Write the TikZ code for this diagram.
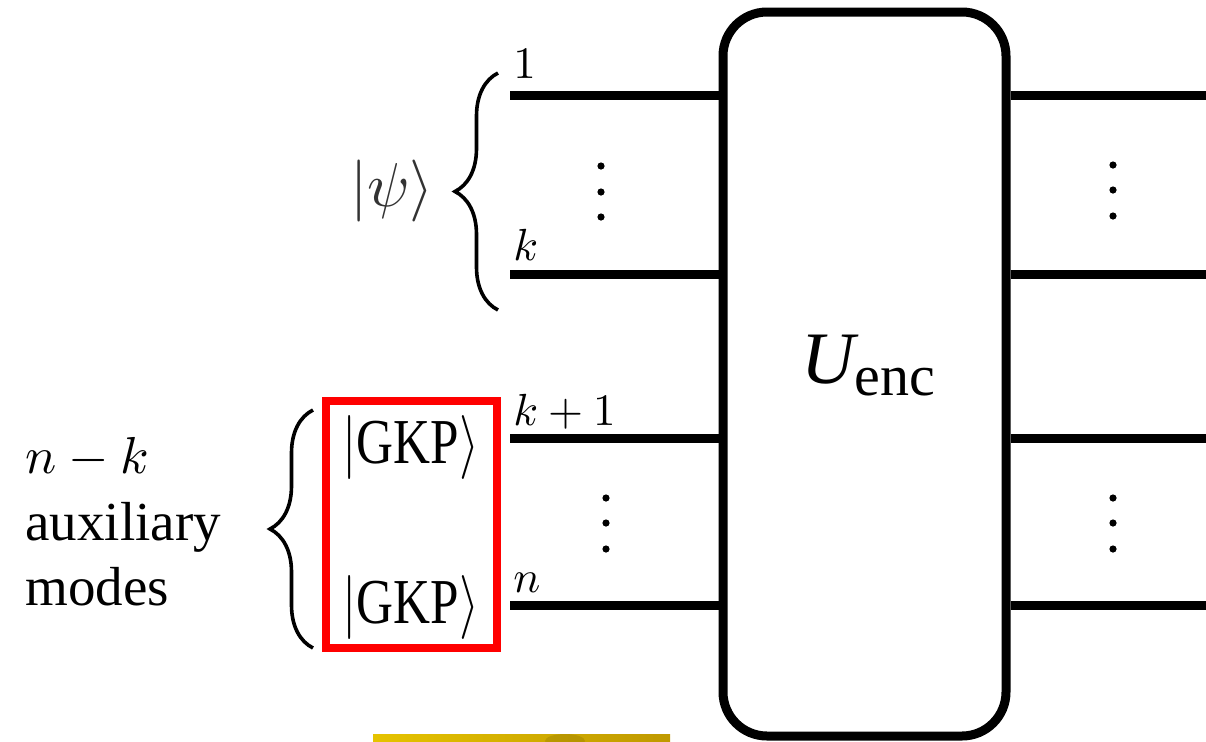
\documentclass[tikz,border=0pt]{standalone}
\usepackage{fontspec}
\setmainfont{Liberation Serif}
\DeclareFontShape{OML}{cmm}{m}{it}{<->cmmi10}{}
\DeclareFontShape{OMS}{cmsy}{m}{n}{<->cmsy10}{}
\DeclareFontShape{OMX}{cmex}{m}{n}{<->cmex10}{}
\DeclareFontShape{OT1}{cmr}{m}{n}{<->cmr10}{}
\usetikzlibrary{decorations.pathreplacing}
\begin{document}
\begin{tikzpicture}[x=0.5pt,y=-0.5pt,
  wire/.style={line width=4.5pt},
  dotc/.style={fill=black,circle,inner sep=0pt,minimum size=3.6pt},
  bracestyle/.style={decorate,decoration={brace,amplitude=21.5pt},line width=1.8pt},
  lab/.style={inner sep=0pt,anchor=base west,font=\fontsize{22.5}{22.5}\selectfont},
  gkp/.style={inner sep=0pt,anchor=base,font=\fontsize{32}{32}\selectfont},
  side/.style={inner sep=0pt,anchor=base west,font=\fontsize{27.5}{27.5}\selectfont}]
\useasboundingbox (0,0) rectangle (1206,741);
% encoder box
\node[draw,line width=4.5pt,rounded corners=22pt,minimum width=141.5pt,minimum height=362pt,inner sep=0pt] (enc) at (864.5,374) {};
\node[inner sep=0pt,anchor=base west] (ulab) at (801,383)
  {{\fontsize{37}{37}\selectfont\itshape U}\raisebox{-6pt}{\fontsize{29}{29}\selectfont enc}};
% wire endpoints
\coordinate (i1) at (510,95);
\coordinate (i2) at (510,274);
\coordinate (i3) at (510,438);
\coordinate (i4) at (510,605);
\coordinate (o1) at (1206,95);
\coordinate (o2) at (1206,274);
\coordinate (o3) at (1206,438);
\coordinate (o4) at (1206,605);
\foreach \k in {1,2,3,4}{
  \draw[wire] (i\k) -- (i\k -| enc.west);
  \draw[wire] (enc.east |- o\k) -- (o\k);
}
% dots
\foreach \yy in {166,192,217}{\node[dotc] at (601,\yy) {};}
\foreach \yy in {165,190,216}{\node[dotc] at (1113,\yy) {};}
\foreach \yy in {498,523,549}{\node[dotc] at (606,\yy) {}; \node[dotc] at (1113,\yy) {};}
% wire labels
\node[lab] (l1) at (513,78) {$1$};
\node[lab] (lk) at (513,260) {$k$};
\node[lab] (lk1) at (513,425) {$k+1$};
\node[lab] (ln) at (513,592) {$n$};
% psi
\node[inner sep=0pt,text=black!80,font=\fontsize{31}{31}\selectfont] (psi) at (392,191) {$|\psi\rangle$};
\coordinate (bt1) at (498,310);
\coordinate (bt2) at (498,73);
\draw[bracestyle] (bt1) -- (bt2);
% GKP box
\node[draw=red,line width=4pt,minimum width=85.5pt,minimum height=123.5pt,inner sep=0pt] (gbox) at (411.5,524.5) {};
\node[gkp] (g1) at (411,463) {\scalebox{0.8}[1]{$|$GKP$\rangle$}};
\node[gkp] (g2) at (411,623) {\scalebox{0.8}[1]{$|$GKP$\rangle$}};
\coordinate (bb1) at (313,648);
\coordinate (bb2) at (313,410);
\draw[bracestyle] (bb1) -- (bb2);
% side text
\node[side,font=\fontsize{26}{26}\selectfont] (t1) at (25,473) {$n-k$};
\node[side] (t2) at (25,540) {auxiliary};
\node[side] (t3) at (25,605) {modes};
% yellow bar
\shade[left color=yellow!70!orange!90!black, right color=yellow!60!orange!75!black] (373,734) rectangle (670,741);
\begin{scope}
\clip (373,734) rectangle (670,741);
\fill[black,opacity=0.1] (565,741) ellipse (20 and 7);
\end{scope}
\end{tikzpicture}
\end{document}
